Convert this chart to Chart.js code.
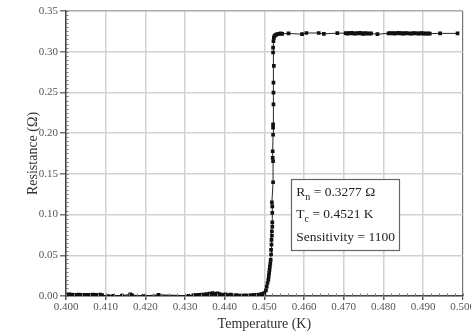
<!DOCTYPE html>
<html>
<head>
<meta charset="utf-8">
<script src="https://cdn.jsdelivr.net/npm/chart.js@4.4.1/dist/chart.umd.min.js"></script>
<style>
html,body{margin:0;padding:0;background:#fff;overflow:hidden;}
#wrap{width:471px;height:331px;position:relative;}
</style>
</head>
<body>
<div id="wrap"><canvas id="c" width="471" height="331"></canvas></div>
<script>
// Temperature (K) and resistance (Ohm)
const temperatureK = [
  0.4005,0.4008,0.4011,0.4014,0.4017,0.4020,0.4023,0.4026,0.4029,0.4032,
  0.4035,0.4038,0.4041,0.4044,0.4047,0.4050,0.4053,0.4056,0.4059,0.4062,
  0.4065,0.4068,0.4071,0.4075,0.4080,0.4086,0.4091,
  0.4107,0.4119,0.4141,0.4162,0.4166,0.4195,0.4233,0.4309,
  0.4321,0.4326,0.4330,0.4334,0.4338,0.4342,0.4346,0.4350,0.4354,0.4358,
  0.4362,0.4366,0.4370,0.4374,0.4378,0.4382,0.4386,0.4391,0.4396,0.4402,
  0.4408,0.4415,0.4421,0.4430,0.4437,0.4445,0.4452,0.4460,0.4466,0.4471,
  0.4476,0.4480,0.4484,0.4487,0.4490,0.4493,0.4496,0.4498,0.4500,
  0.4504,0.4506,0.4508,0.4510,0.4511,0.4512,0.4513,0.4514,0.4515,0.4516,
  0.4517,0.4517,0.4518,0.4518,0.4519,0.4519,0.4520,0.4520,0.4520,0.4520,
  0.4519,0.4522,0.4522,0.4521,0.4521,0.4522,0.4522,0.4522,0.4523,0.4523,
  0.4523,0.4524,0.4522,0.4522,0.4523,0.4524,0.4525,0.4527,0.4530,0.4533,
  0.4537,0.4541,0.4545,0.4561,0.4595,0.4606,0.4637,0.4650,0.4684,
  0.4705,0.4709,0.4713,0.4717,0.4721,0.4725,0.4729,0.4733,0.4737,0.4741,
  0.4745,0.4749,0.4753,0.4757,0.4761,0.4765,0.4769,0.4785,
  0.4813,0.4817,0.4821,0.4825,0.4829,0.4833,0.4837,0.4841,0.4845,0.4849,
  0.4853,0.4857,0.4861,0.4865,0.4869,0.4873,0.4877,0.4881,0.4885,0.4889,
  0.4893,0.4897,0.4901,0.4905,0.4909,0.4913,0.4917,0.4943,0.4987
];
const resistanceOhm = [
  0.0015,0.0020,0.0010,0.0018,0.0012,0.0015,0.0008,0.0014,0.0010,0.0016,
  0.0009,0.0012,0.0007,0.0013,0.0010,0.0015,0.0008,0.0011,0.0014,0.0009,
  0.0012,0.0016,0.0010,0.0013,0.0011,0.0017,0.0012,
  0.0000,0.0003,0.0005,0.0020,0.0012,0.0000,0.0015,0.0003,
  0.0008,0.0012,0.0006,0.0014,0.0010,0.0016,0.0012,0.0018,0.0022,0.0015,
  0.0030,0.0025,0.0035,0.0028,0.0020,0.0032,0.0024,0.0018,0.0015,0.0020,
  0.0012,0.0016,0.0008,0.0010,0.0004,0.0006,0.0009,0.0005,0.0008,0.0011,
  0.0010,0.0014,0.0012,0.0018,0.0015,0.0022,0.0020,0.0030,0.0035,
  0.0070,0.0115,0.0160,0.0197,0.0240,0.0280,0.0320,0.0360,0.0400,0.0444,
  0.0510,0.0567,0.0630,0.0690,0.0740,0.0793,0.0850,0.0904,0.1020,0.1100,
  0.1150,0.1397,0.1655,0.1697,0.1778,0.1980,0.2067,0.2107,0.2354,0.2498,
  0.2620,0.2826,0.2990,0.3050,0.3130,0.3170,0.3190,0.3200,0.3210,0.3215,
  0.3220,0.3225,0.3220,0.3225,0.3215,0.3230,0.3230,0.3220,0.3228,
  0.3228,0.3222,0.3230,0.3225,0.3232,0.3226,0.3221,0.3229,0.3224,0.3231,
  0.3226,0.3220,0.3228,0.3223,0.3227,0.3221,0.3225,0.3215,
  0.3226,0.3230,0.3224,0.3229,0.3222,0.3227,0.3231,0.3225,0.3228,0.3222,
  0.3226,0.3230,0.3224,0.3227,0.3221,0.3226,0.3229,0.3224,0.3227,0.3222,
  0.3225,0.3228,0.3223,0.3226,0.3221,0.3225,0.3222,0.3225,0.3225
];
const xTickValues = [0.40,0.41,0.42,0.43,0.44,0.45,0.46,0.47,0.48,0.49,0.50];
const yTickValues = [0.00,0.05,0.10,0.15,0.20,0.25,0.30,0.35];
const xTitle = 'Temperature (K)';
const yTitle = 'Resistance (\u03A9)';
const infoLines = [
  {main:'R', sub:'n', rest:' = 0.3277 \u03A9'},
  {main:'T', sub:'c', rest:' = 0.4521 K'},
  {main:'Sensitivity = 1100', sub:'', rest:''}
];

const FONT = '"Liberation Serif", "Times New Roman", serif';

const extras = {
  id:'extras',
  afterDraw(chart){
    const ctx = chart.ctx;
    const xs = chart.scales.x, ys = chart.scales.y;
    const ca = chart.chartArea;
    ctx.save();
    ctx.strokeStyle = '#777';
    ctx.lineWidth = 1;
    for (let v = 0; v <= 0.35001; v += 0.005) {
      const py = Math.round(ys.getPixelForValue(v)) + 0.5;
      ctx.beginPath(); ctx.moveTo(ca.left, py); ctx.lineTo(ca.left + 2.5, py); ctx.stroke();
    }
    for (let v = 0.4; v <= 0.50001; v += 0.002) {
      const px = Math.round(xs.getPixelForValue(v)) + 0.5;
      ctx.beginPath(); ctx.moveTo(px, ca.bottom); ctx.lineTo(px, ca.bottom - 2.5); ctx.stroke();
    }
    const bx = xs.getPixelForValue(0.4568), by = ys.getPixelForValue(0.1435);
    const bw = 108, bh = 71;
    ctx.fillStyle = '#fff';
    ctx.fillRect(bx, by, bw, bh);
    ctx.strokeStyle = '#666';
    ctx.lineWidth = 1.2;
    ctx.strokeRect(Math.round(bx)+0.5, Math.round(by)+0.5, bw, bh);
    ctx.fillStyle = '#222';
    ctx.textBaseline = 'alphabetic';
    ctx.textAlign = 'left';
    const baselines = [17, 39, 62];
    infoLines.forEach((ln, i) => {
      let x = bx + 5;
      const y = by + baselines[i];
      ctx.font = '13.5px ' + FONT;
      ctx.fillText(ln.main, x, y);
      x += ctx.measureText(ln.main).width;
      if (ln.sub) {
        ctx.font = '10px ' + FONT;
        ctx.fillText(ln.sub, x, y + 4);
        x += ctx.measureText(ln.sub).width;
      }
      if (ln.rest) {
        ctx.font = '13.5px ' + FONT;
        ctx.fillText(ln.rest, x, y);
      }
    });
    ctx.restore();
  }
};

new Chart(document.getElementById('c'), {
  type: 'scatter',
  data: {
    datasets: [{
      data: temperatureK.map((t, i) => ({x: t, y: resistanceOhm[i]})),
      showLine: true,
      borderColor: '#111',
      borderWidth: 0.9,
      backgroundColor: '#111',
      pointBackgroundColor: '#111',
      pointBorderWidth: 0,
      pointStyle: 'rect',
      pointRadius: 2.6,
      tension: 0
    }]
  },
  options: {
    responsive: false,
    animation: false,
    layout: { padding: { left: 0, right: 8.3, top: 11, bottom: 0 } },
    plugins: { legend: { display: false }, tooltip: { enabled: false } },
    scales: {
      x: {
        type: 'linear',
        min: 0.4, max: 0.5,
        afterBuildTicks(s){ s.ticks = xTickValues.map(v => ({value: v})); },
        afterFit(s){ s.height = 35; s.paddingLeft = 0; s.paddingRight = 0; },
        ticks: {
          color: '#555',
          font: { family: FONT, size: 11 },
          padding: 1,
          maxRotation: 0,
          autoSkip: false,
          callback: v => v.toFixed(3)
        },
        grid: {
          color: ctx => (ctx.tick && Math.abs(ctx.tick.value - 0.5) < 1e-9) ? '#777' : '#d2d2d2',
          lineWidth: ctx => (ctx.tick && Math.abs(ctx.tick.value - 0.5) < 1e-9) ? 1.2 : 1.5,
          tickLength: 4,
          tickColor: '#555'
        },
        border: { color: '#444', width: 1.5 },
        title: {
          display: true,
          text: xTitle,
          color: '#333',
          font: { family: FONT, size: 14 },
          padding: { top: 0, bottom: -2 }
        }
      },
      y: {
        type: 'linear',
        min: 0, max: 0.35,
        afterBuildTicks(s){ s.ticks = yTickValues.map(v => ({value: v})); },
        afterFit(s){ s.width = 66; s.paddingTop = 0; s.paddingBottom = 0; },
        ticks: {
          color: '#555',
          font: { family: FONT, size: 11 },
          padding: 2,
          autoSkip: false,
          callback: v => v.toFixed(2)
        },
        grid: {
          color: ctx => (ctx.tick && Math.abs(ctx.tick.value - 0.35) < 1e-9) ? '#aaa' : '#d2d2d2',
          lineWidth: 1.5,
          tickLength: 6,
          tickColor: '#777'
        },
        border: { color: '#444', width: 1.5 },
        title: {
          display: true,
          text: yTitle,
          color: '#333',
          font: { family: FONT, size: 14 },
          padding: { top: 25, bottom: 0 }
        }
      }
    }
  },
  plugins: [extras]
});
</script>
</body>
</html>
